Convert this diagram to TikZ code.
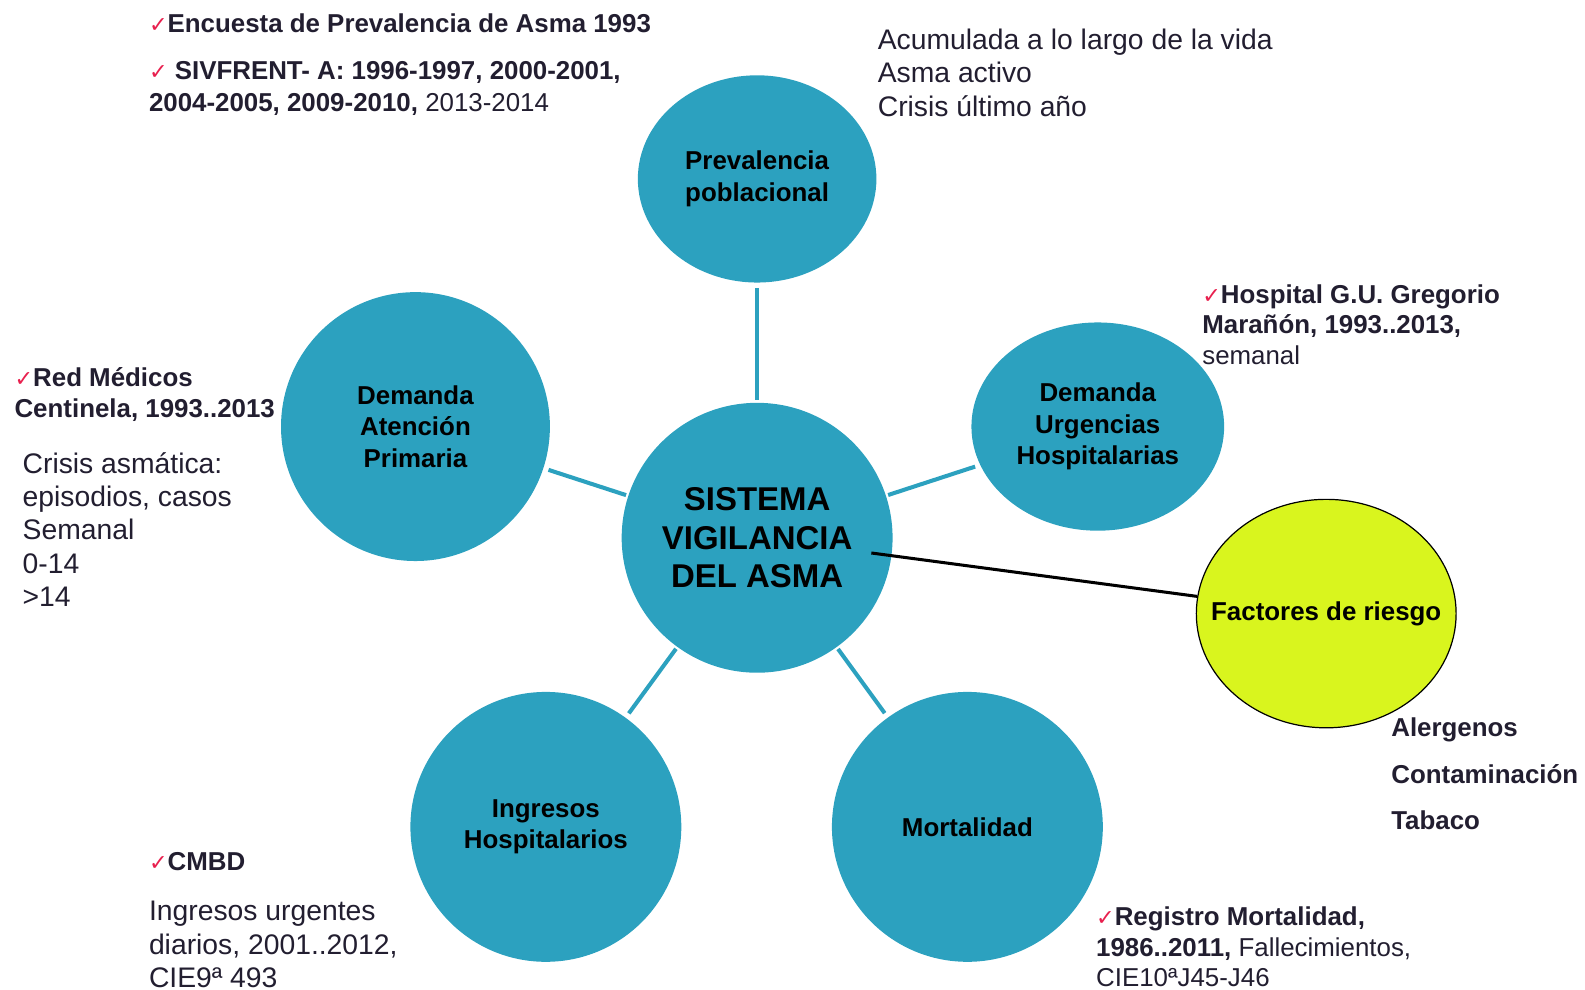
\documentclass[tikz,border=0pt]{standalone}
\usepackage{fontspec}
\setmainfont{Liberation Sans}
\newfontfamily\symfont{DejaVu Sans}
\usepackage{xcolor}
\usetikzlibrary{shapes.geometric}

\definecolor{asmateal}{HTML}{2CA1BF}
\definecolor{riskyellow}{HTML}{D9F51E}
\definecolor{tickred}{HTML}{E8204E}
\definecolor{notetext}{HTML}{221E30}

\newcommand{\chk}{{\color{tickred}\symfont\fontsize{11}{11}\selectfont ✓}}

\tikzset{
    topic/.style={ellipse, fill=asmateal, inner sep=0pt, align=center, text=black,
        font=\bfseries\fontsize{12.8}{15.5}\selectfont},
    link/.style={draw=asmateal, line width=2pt, shorten <=2.5pt, shorten >=1pt},
    % base = baseline of the last line
    note/.style={anchor=base west, inner sep=0pt, align=left, text=notetext,
        font=\fontsize{12.8}{15.5}\selectfont},
    bignote/.style={note, font=\fontsize{14}{16.5}\selectfont}
}

\begin{document}
\begin{tikzpicture}[x=0.5pt, y=-0.5pt]
    \useasboundingbox (0,0) rectangle (1568,979);

    % Circles
    \node[topic, minimum width=134pt, minimum height=133.5pt,
        font=\bfseries\fontsize{16.3}{19}\selectfont] (sva) at (749,532) {SISTEMA\\VIGILANCIA\\DEL ASMA};
    \node[topic, minimum width=118pt, minimum height=102.5pt] (prev) at (749,177) {Prevalencia\\poblacional};
    \node[topic, minimum width=133pt, minimum height=133pt] (dap) at (411,422) {Demanda\\Atención\\Primaria};
    \node[topic, minimum width=125pt, minimum height=103pt] (duh) at (1086,422) {Demanda\\Urgencias\\Hospitalarias};
    \node[topic, minimum width=134pt, minimum height=133.5pt] (ing) at (540,818) {Ingresos\\Hospitalarios};
    \node[topic, minimum width=134pt, minimum height=133.5pt] (mort) at (957,818) {Mortalidad};
    \node[topic, fill=riskyellow, draw=black, line width=0.6pt, inner xsep=-12pt,
        minimum width=128.5pt, minimum height=113pt] (fac) at (1312,607) {Factores de riesgo};

    % Connectors
    \draw[link] (prev) -- (sva);
    \draw[link] (dap) -- (sva);
    \draw[link] (duh) -- (sva);
    \draw[link] (ing) -- (sva);
    \draw[link] (mort) -- (sva);
    \draw[black, line width=1.5pt, shorten <=57pt] (sva.center) -- (fac);

    % Sources and notes
    \node[note] (encuesta) at (147,32) {\chk\textbf{Encuesta de Prevalencia de Asma 1993}};
    \node[note] (sivfrent) at (147,110) {\chk\textbf{ SIVFRENT- A: 1996-1997, 2000-2001,}\\
        \textbf{2004-2005, 2009-2010,} 2013-2014};
    \node[bignote] (prevtxt) at (868,115) {Acumulada a lo largo de la vida\\Asma activo\\Crisis último año};
    \node[note, font=\fontsize{12.8}{15.3}\selectfont] (hosptxt) at (1189,361)
        {\chk\textbf{Hospital G.U. Gregorio}\\\textbf{Marañón, 1993..2013,}\\semanal};
    \node[note] (redtxt) at (14,413) {\chk\textbf{Red Médicos}\\\textbf{Centinela, 1993..2013}};
    \node[bignote] (crisistxt) at (22,600) {Crisis asmática:\\episodios, casos\\Semanal\\0-14\\>14};
    \node[note, font=\bfseries\fontsize{12.8}{23}\selectfont] (riesgos) at (1376,821) {Alergenos\\Contaminación\\Tabaco};
    \node[note] (cmbd) at (147,861) {\chk\textbf{CMBD}};
    \node[bignote] (ingtxt) at (147,977) {Ingresos urgentes\\diarios, 2001..2012,\\CIE9ª 493};
    \node[note, font=\fontsize{12.8}{15}\selectfont] (regtxt) at (1084,976)
        {\chk\textbf{Registro Mortalidad,}\\\textbf{1986..2011,} Fallecimientos,\\CIE10ªJ45-J46};
\end{tikzpicture}
\end{document}
